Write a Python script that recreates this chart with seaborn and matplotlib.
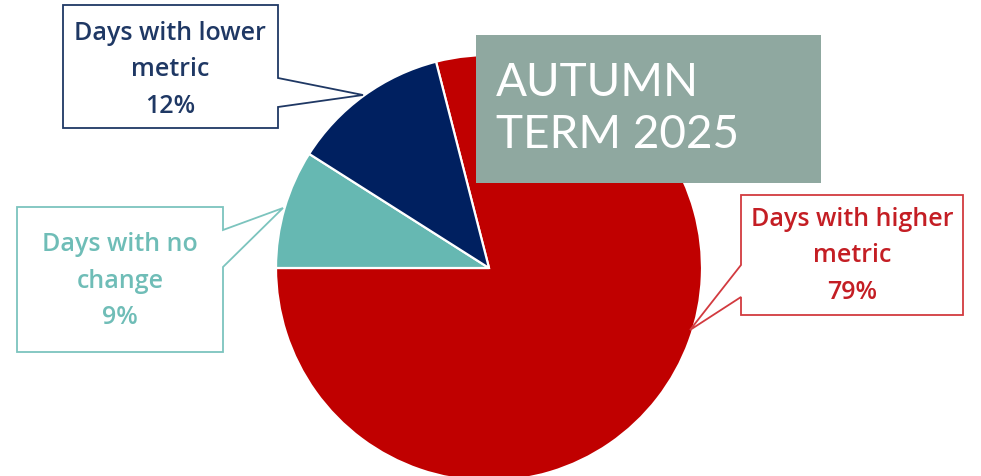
import matplotlib
matplotlib.use("Agg")
import matplotlib.pyplot as plt
from matplotlib.patches import Polygon, Rectangle
import seaborn as sns

# Share of school days by how the metric moved
categories = ["Days with higher\nmetric", "Days with no\nchange", "Days with lower\nmetric"]
shares = [79, 9, 12]
colors = ["#C00000", "#66B8B2", "#002060"]
edge_colors = ["#D23A3F", "#7CC4BE", "#1F3864"]
text_colors = ["#C41E24", "#6FBDB7", "#1F3864"]
title_text = "AUTUMN\nTERM 2025"

sns.set_theme(style="white")
plt.rcParams["font.family"] = ["Lato", "DejaVu Sans"]

W, H = 981, 476
fig = plt.figure(figsize=(W / 100, H / 100), dpi=100)
ax = fig.add_axes([0, 0, 1, 1])


def py(y):
    # pixel row (top-down) to axis y (bottom-up)
    return H - y


ax.pie(
    shares,
    colors=colors,
    startangle=104.4,
    counterclock=False,
    center=(489, py(268)),
    radius=213,
    wedgeprops=dict(edgecolor="white", linewidth=1.6),
    frame=True,
)
ax.set_xlim(0, W)
ax.set_ylim(0, H)
ax.set_aspect("equal")
ax.axis("off")

# Callout outlines (box with a pointer toward its slice), in pixel rows
callouts = [
    # higher metric
    dict(poly=[(741, 195), (963, 195), (963, 315), (741, 315), (741, 297), (690, 330), (741, 265)],
         center=(852, 256)),
    # no change
    dict(poly=[(17, 207), (223, 207), (223, 230), (283, 208), (223, 267), (223, 352), (17, 352)],
         center=(120, 281)),
    # lower metric
    dict(poly=[(63, 5), (278, 5), (278, 78), (363, 95), (278, 107), (278, 128), (63, 128)],
         center=(170, 70)),
]

for cat, share, co, ec, tc in zip(categories, shares, callouts, edge_colors, text_colors):
    pts = [(x, py(y)) for x, y in co["poly"]]
    ax.add_patch(Polygon(pts, closed=True, facecolor="white", edgecolor=ec, linewidth=1.3, zorder=5))
    cx, cy = co["center"]
    ax.text(cx, py(cy), f"{cat}\n{share}%", ha="center", va="center", color=tc,
            fontsize=18, fontweight="semibold", linespacing=1.6, zorder=6,
            family=["Open Sans", "DejaVu Sans"])

# Term banner
ax.add_patch(Rectangle((476, py(183)), 345, 148, facecolor="#8FA8A0", edgecolor="none", zorder=7))
ax.text(496, py(109), title_text, ha="left", va="center", color="white",
        fontsize=33, linespacing=1.28, zorder=8)

fig.savefig("out.png", dpi=100)
